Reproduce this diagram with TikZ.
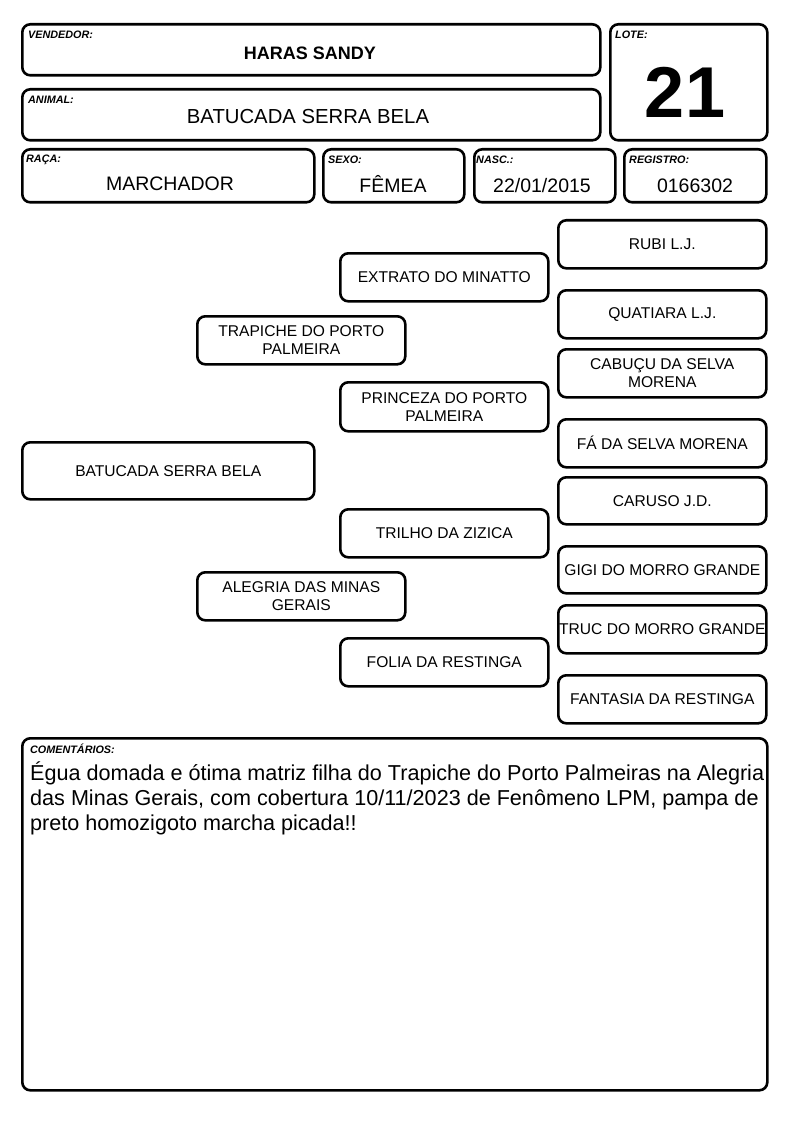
\documentclass[tikz,border=0pt]{standalone}
\usepackage{fontspec}
\setmainfont{Liberation Sans}
\tikzset{
  box/.style={draw, line width=2.6pt, rounded corners=8pt, inner sep=0pt,
              anchor=north west},
  tag/.style={font=\fontsize{10.8}{12}\selectfont\bfseries\itshape,
              anchor=north west, inner sep=0pt},
  value/.style={font=\fontsize{19.5}{22}\selectfont, inner sep=0pt, anchor=base},
  horse/.style={box, minimum width=208pt, minimum height=48pt, align=center,
                font=\fontsize{15.6}{18}\selectfont},
}

\begin{document}
\begin{tikzpicture}[x=1pt, y=-1pt]
  \useasboundingbox (0,0) rectangle (794,1123);

  % header
  \node[box, minimum width=578pt, minimum height=51pt] (vend) at (21,23) {};
  \node[tag] (vendtag) at ([xshift=7pt, yshift=-8pt]vend.north west) {VENDEDOR:};
  \node[value, font=\fontsize{18}{20}\selectfont\bfseries] (vendval) at (310,60) {HARAS SANDY};

  \node[box, minimum width=578pt, minimum height=51pt] (anim) at (21,88) {};
  \node[tag] (animtag) at ([xshift=7pt, yshift=-8pt]anim.north west) {ANIMAL:};
  \node[value, font=\fontsize{20.3}{22}\selectfont] (animval) at (308,124) {BATUCADA SERRA BELA};

  \node[box, minimum width=157pt, minimum height=116pt] (lote) at (609,23) {};
  \node[tag] (lotetag) at ([xshift=6pt, yshift=-8pt]lote.north west) {LOTE:};
  \node[value, font=\fontsize{72}{74}\selectfont\bfseries] (loteval) at (685,118) {21};

  \node[box, minimum width=292pt, minimum height=53pt] (raca) at (21,148) {};
  \node[tag] (racatag) at ([xshift=5pt, yshift=-7pt]raca.north west) {RAÇA:};
  \node[value] (racaval) at (170,191) {MARCHADOR};

  \node[box, minimum width=141pt, minimum height=53pt] (sexo) at (322,148) {};
  \node[tag] (sexotag) at ([xshift=6pt, yshift=-8pt]sexo.north west) {SEXO:};
  \node[value] (sexoval) at (393,193) {FÊMEA};

  \node[box, minimum width=141pt, minimum height=53pt] (nasc) at (473,148) {};
  \node[tag] (nasctag) at ([xshift=3pt, yshift=-8pt]nasc.north west) {NASC.:};
  \node[value] (nascval) at (542,193) {22/01/2015};

  \node[box, minimum width=142pt, minimum height=53pt] (regi) at (623,148) {};
  \node[tag] (regitag) at ([xshift=6pt, yshift=-8pt]regi.north west) {REGISTRO:};
  \node[value] (regival) at (695,193) {0166302};

  % pedigree
  \node[horse, minimum width=292pt, minimum height=57pt] (g1) at (21,441) {BATUCADA SERRA BELA};

  \node[horse] (g2a) at (196,315) {TRAPICHE DO PORTO\\PALMEIRA};
  \node[horse] (g2b) at (196,571) {ALEGRIA DAS MINAS\\GERAIS};

  \node[horse] (g3a) at (339,252) {EXTRATO DO MINATTO};
  \node[horse, minimum height=49pt] (g3b) at (339,381) {PRINCEZA DO PORTO\\PALMEIRA};
  \node[horse] (g3c) at (339,508) {TRILHO DA ZIZICA};
  \node[horse] (g3d) at (339,637) {FOLIA DA RESTINGA};

  \node[horse] (g4a) at (557,219) {RUBI L.J.};
  \node[horse] (g4b) at (557,289) {QUATIARA L.J.};
  \node[horse] (g4c) at (557,348) {CABUÇU DA SELVA\\MORENA};
  \node[horse] (g4d) at (557,418) {FÁ DA SELVA MORENA};
  \node[horse, minimum height=47pt] (g4e) at (557,476) {CARUSO J.D.};
  \node[horse, minimum height=47pt] (g4f) at (557,545) {GIGI DO MORRO GRANDE};
  \node[horse] (g4g) at (557,604) {TRUC DO MORRO GRANDE};
  \node[horse] (g4h) at (557,674) {FANTASIA DA RESTINGA};

  % comments
  \node[box, minimum width=745pt, minimum height=352pt] (coment) at (21,737) {};
  \node[tag] (comenttag) at ([xshift=9pt, yshift=-7pt]coment.north west) {COMENTÁRIOS:};
  \node[anchor=north west, inner sep=0pt, align=left,
        font=\fontsize{21.6}{25}\selectfont] (comentval) at (30,762)
    {Égua domada e ótima matriz filha do Trapiche do Porto Palmeiras na Alegria\\
     das Minas Gerais, com cobertura 10/11/2023 de Fenômeno LPM, pampa de\\
     preto homozigoto marcha picada!!};
\end{tikzpicture}
\end{document}
